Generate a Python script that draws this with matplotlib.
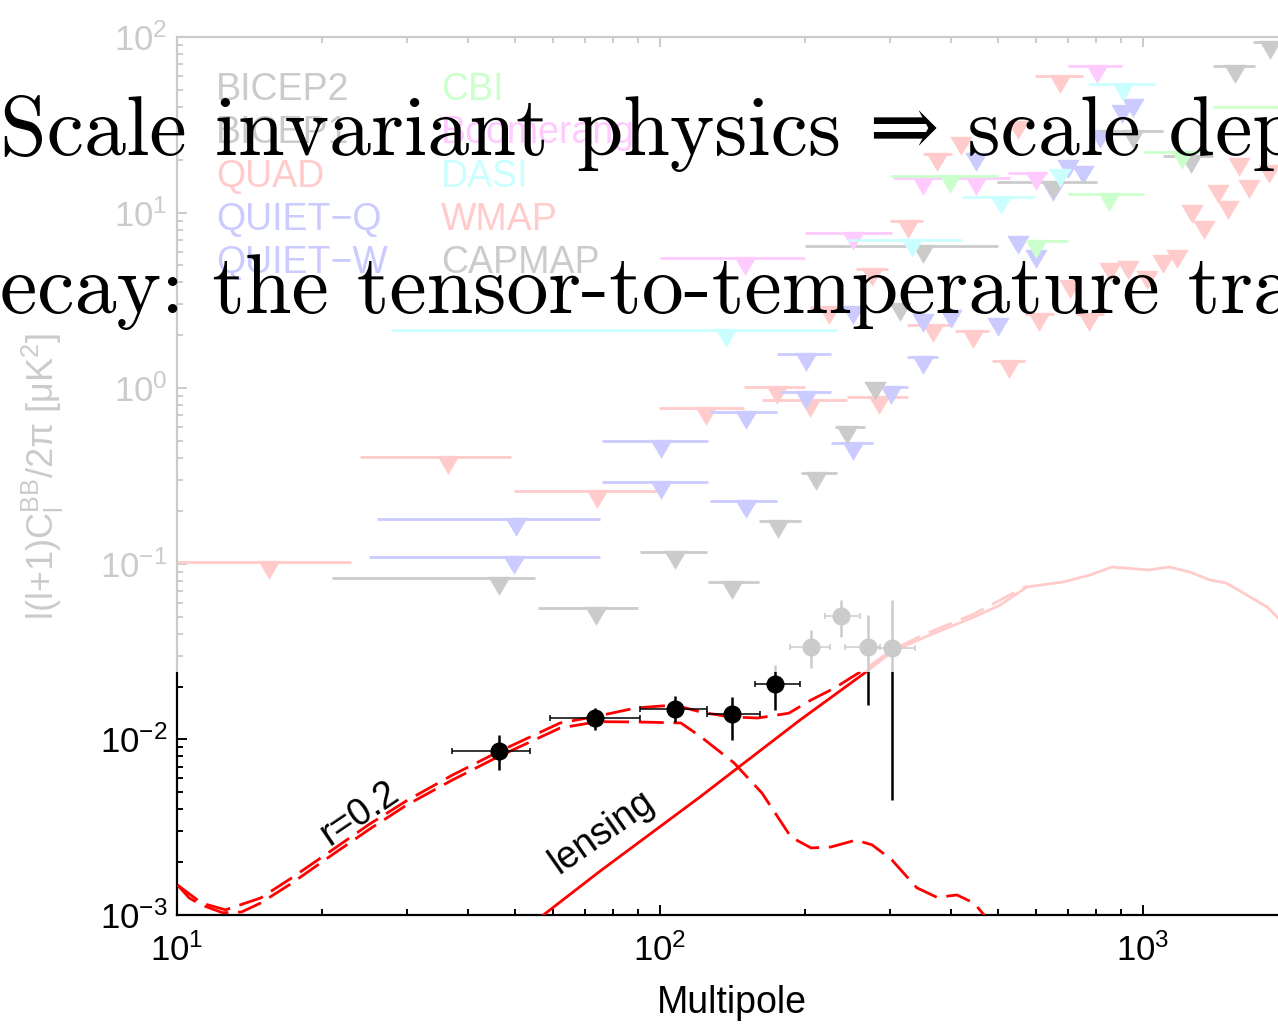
import numpy as np
import matplotlib
matplotlib.use('Agg')
import matplotlib.pyplot as plt
from matplotlib.path import Path
from matplotlib.patches import Rectangle
from matplotlib.ticker import LogLocator, NullFormatter

plt.rcParams['font.family'] = ['Liberation Sans', 'DejaVu Sans']
plt.rcParams['mathtext.default'] = 'regular'

# ---------------- data ----------------
# BICEP2 band powers
b2_ell = np.array([46.4, 73.4, 107.4, 141, 173, 205.6, 237, 270, 302])
b2_ell_lo = np.array([37.1, 59.2, 90.9, 125, 157, 186, 220, 241, 279])
b2_ell_hi = np.array([53.8, 90.9, 125, 161, 195, 225, 259, 285, 337])
b2_val = np.array([0.0086, 0.01324, 0.0149, 0.01396, 0.02066, 0.0336, 0.0504, 0.0336, 0.0332])
b2_lo = np.array([0.0067, 0.01132, 0.01256, 0.00993, 0.01469, 0.0255, 0.0383, 0.0157, 0.00452])
b2_hi = np.array([0.0106, 0.0151, 0.01766, 0.0174, 0.02654, 0.042, 0.0622, 0.051, 0.0622])

# upper limits: centre ell, ell range, limit value
wmap_ell = [15.5, 36.4, 74.1, 204.5]
wmap_lo = [10, 23.9, 49.9, 163]
wmap_hi = [22.9, 49.2, 99.5, 244]
wmap_val = [0.102, 0.405, 0.260, 0.857]

quad_ell = [124.5, 174.6, 284, 528, 773, 609, 445, 367, 224, 275, 326, 374, 420, 551, 673,
            1580, 1824, 1657, 1429, 1500, 1262, 1336, 855, 931, 1019, 1099, 1175, 706]
quad_lo = [99.3, 149, 244, 487, 727, 570, 408, 325, 204, 255, 299, 350, 405, 530, 597,
           1580, 1824, 1657, 1429, 1500, 1262, 1336, 840, 915, 1000, 1080, 1155, 690]
quad_hi = [149, 199.5, 326, 570, 831, 655, 480, 404, 247, 296, 350, 403, 436, 572, 751,
           1580, 1824, 1657, 1429, 1500, 1262, 1336, 870, 948, 1040, 1118, 1195, 722]
quad_val = [0.771, 1.016, 0.891, 1.43, 2.65, 2.65, 2.12, 2.29, 2.90, 4.77, 8.96, 21.6, 26.5, 32.8, 60,
            20.2, 18.4, 15.1, 14.2, 11.5, 10.9, 8.84, 5.10, 5.23, 4.59, 5.66, 6.04, 4.08]

quietq_ell = [49.9, 100.5, 150.7, 201, 251, 301, 350.5]
quietq_lo = [25, 75.9, 127, 177, 226, 276, 325]
quietq_hi = [75.2, 125.6, 175, 226, 276, 326, 376]
quietq_val = [0.109, 0.292, 0.228, 0.951, 0.488, 1.016, 1.51]

quietw_ell = [50.4, 100.5, 150.7, 200.5, 350.5, 400, 501, 251, 451, 551, 600, 700, 751, 651, 953, 906, 815]
quietw_lo = [26, 75.9, 127, 175, 338, 388, 485, 240, 440, 540, 590, 690, 740, 640, 940, 895, 805]
quietw_hi = [75.2, 125.6, 175, 226, 363, 412, 517, 262, 462, 562, 610, 710, 762, 662, 966, 917, 825]
quietw_val = [0.180, 0.500, 0.732, 1.567, 2.61, 2.75, 2.48, 2.90, 21.6, 7.26, 6.04, 19.7, 18.2, 14.5, 43.7, 40.4, 29.2]

bicep1_ell = [46.4, 73.6, 107.4, 141, 175.4, 210.5, 244, 279, 314]
bicep1_lo = [20.9, 55.9, 90.9, 125.6, 160, 196, 230, 266, 302]
bicep1_hi = [55.1, 90, 125, 160, 196, 232, 266, 290, 326]
bicep1_val = [0.083, 0.056, 0.1167, 0.0787, 0.1754, 0.329, 0.601, 1.07, 3.02]

capmap_ell = [350.5, 651, 953, 1257, 1550, 1832]
capmap_lo = [199.5, 499, 815, 1099, 1396, 1689]
capmap_hi = [501, 803, 1099, 1396, 1706, 1940]
capmap_val = [6.45, 14.9, 29.2, 21.0, 68.4, 93.7]

boom_ell = [150, 251, 350.5, 451, 600, 803]
boom_lo = [99.8, 199.5, 303, 412, 525, 700]
boom_hi = [200, 302, 398, 531, 633, 906]
boom_val = [5.51, 7.66, 15.7, 15.7, 16.8, 68.4]

dasi_ell = [137, 332, 508, 673, 910]
dasi_lo = [27.9, 245, 422, 640, 769]
dasi_hi = [232, 422, 597, 706, 1059]
dasi_val = [2.14, 6.98, 12.3, 17.5, 54]

cbi_ell = [398, 600, 851, 1205, 2000]
cbi_lo = [299, 575, 700, 1005, 1396]
cbi_hi = [501, 700, 1005, 1396, 2800]
cbi_val = [16.1, 6.89, 12.8, 22.1, 39.9]

# theory curves
lens_ell = [51.3, 57.0, 75.2, 121, 143, 195, 267, 302, 354, 447, 506, 575, 682, 776, 863,
            1028, 1132, 1250, 1376, 1486, 1667, 1808, 1905, 2020]
lens_cl = [0.0008, 0.000987, 0.00178, 0.0047, 0.0067, 0.0129, 0.0242, 0.0315, 0.0383, 0.0498,
           0.0582, 0.0738, 0.0787, 0.0863, 0.0959, 0.0922, 0.0959, 0.0897, 0.0809, 0.0778,
           0.0647, 0.0567, 0.0491, 0.041]

tens_ell = [10.03, 10.6, 11.24, 12.43, 13.6, 14.9, 17.3, 20.7, 24.9, 29.9, 37.2, 46.2, 62.1,
            74.4, 90.9, 110.5, 121.6, 142.3, 162.6, 186.7, 205.4, 225.9, 254.5, 274.8, 302,
            340, 374.6, 412, 446.8, 468.8, 506]
tens_cl = [0.00148, 0.00125, 0.00114, 0.00103, 0.00104, 0.00117, 0.00152, 0.00215, 0.00305,
           0.00423, 0.00588, 0.00796, 0.01161, 0.01262, 0.01256, 0.0124, 0.01033, 0.00735,
           0.00495, 0.00278, 0.00241, 0.00244, 0.00267, 0.00251, 0.00206, 0.00143, 0.00126,
           0.0013, 0.00117, 0.0010, 0.00077]

tot_ell = [10.03, 11.24, 12.6, 14.9, 17.3, 20.7, 24.9, 29.9, 37.2, 46.2, 62.1, 74.4, 89.1,
           107.2, 121.6, 139.6, 159.6, 184.8, 205.4, 230, 249.7, 269.6, 302, 354, 446.8, 575]
tot_cl = [0.00148, 0.00117, 0.00107, 0.00125, 0.00163, 0.00229, 0.00326, 0.00448, 0.00627,
          0.00848, 0.0124, 0.01358, 0.0151, 0.0157, 0.0143, 0.01343, 0.01324, 0.0141, 0.01675,
          0.01963, 0.02264, 0.0258, 0.0323, 0.0398, 0.0518, 0.0748]

legend_col1 = ['BICEP2', 'BICEP1', 'QUAD', 'QUIET\u2212Q', 'QUIET\u2212W']
legend_col1_colors = ['black', 'black', 'red', 'blue', 'blue']
legend_col2 = ['CBI', 'Boomerang', 'DASI', 'WMAP', 'CAPMAP']
legend_col2_colors = ['#00ff00', 'magenta', 'cyan', 'red', 'black']

# ---------------- figure ----------------
fig = plt.figure(figsize=(12.78, 10.25), dpi=100)
ax = fig.add_axes([177 / 1278, 1 - 915 / 1025, 1158.2 / 1278, 878 / 1025])
ax.set_xscale('log')
ax.set_yscale('log')
ax.set_xlim(10, 2500)
ax.set_ylim(1e-3, 1e2)

tri = Path([(-1, 0.15), (1, 0.15), (0, -1.55), (-1, 0.15)],
           [Path.MOVETO, Path.LINETO, Path.LINETO, Path.CLOSEPOLY])


def limits(e, lo, hi, v, c):
    e = np.asarray(e, float)
    lo = np.asarray(lo, float)
    hi = np.asarray(hi, float)
    v = np.asarray(v, float)
    ax.errorbar(e, v, xerr=[e - lo, hi - e], fmt='none', ecolor=c, elinewidth=2.0,
                capsize=0, zorder=2)
    ax.plot(e, v, ls='none', marker=tri, ms=25, mfc=c, mec='none', zorder=2)


limits(wmap_ell, wmap_lo, wmap_hi, wmap_val, 'red')
limits(quad_ell, quad_lo, quad_hi, quad_val, 'red')
limits(quietq_ell, quietq_lo, quietq_hi, quietq_val, 'blue')
limits(quietw_ell, quietw_lo, quietw_hi, quietw_val, 'blue')
limits(bicep1_ell, bicep1_lo, bicep1_hi, bicep1_val, 'black')
limits(capmap_ell, capmap_lo, capmap_hi, capmap_val, 'black')
limits(boom_ell, boom_lo, boom_hi, boom_val, 'magenta')
limits(dasi_ell, dasi_lo, dasi_hi, dasi_val, 'cyan')
limits(cbi_ell, cbi_lo, cbi_hi, cbi_val, '#00ff00')

# theory
ax.plot(lens_ell, lens_cl, color='red', lw=2.0, zorder=3)
ax.plot(tens_ell, tens_cl, color='red', lw=2.0, ls=(0, (9, 3.5)), zorder=3)
ax.plot(tot_ell, tot_cl, color='red', lw=2.0, ls=(0, (9, 3.5)), zorder=3)

# BICEP2 points
ax.errorbar(b2_ell, b2_val, yerr=[b2_val - b2_lo, b2_hi - b2_val], fmt='none', ecolor='black',
            elinewidth=1.8, capsize=0, zorder=4)
ax.errorbar(b2_ell, b2_val, xerr=[b2_ell - b2_ell_lo, b2_ell_hi - b2_ell], fmt='o', color='black',
            ms=12, elinewidth=1.1, capsize=2.5, capthick=1.1, zorder=4)

ax.text(23.9, 0.00376, 'r=0.2', rotation=34, fontsize=27, ha='center', va='center',
        rotation_mode='anchor', zorder=5)
ax.text(75.9, 0.00297, 'lensing', rotation=35, fontsize=27, ha='center', va='center',
        rotation_mode='anchor', zorder=5)

# legend as coloured text
rows_y = [0.9396, 0.8907, 0.8405, 0.7916, 0.7426]
for lab, c, yy in zip(legend_col1, legend_col1_colors, rows_y):
    ax.text(0.0337, yy, lab, color=c, fontsize=27, ha='left', va='center', transform=ax.transAxes)
for lab, c, yy in zip(legend_col2, legend_col2_colors, rows_y):
    ax.text(0.228, yy, lab, color=c, fontsize=27, ha='left', va='center', transform=ax.transAxes)

# axes styling
for s in ['left', 'bottom', 'top']:
    ax.spines[s].set_linewidth(1.6)
ax.spines['right'].set_visible(False)
ax.xaxis.set_major_locator(LogLocator(base=10, numticks=10))
ax.xaxis.set_minor_locator(LogLocator(base=10, subs=np.arange(2, 10), numticks=20))
ax.yaxis.set_major_locator(LogLocator(base=10, numticks=10))
ax.yaxis.set_minor_locator(LogLocator(base=10, subs=np.arange(2, 10), numticks=20))
ax.xaxis.set_minor_formatter(NullFormatter())
ax.yaxis.set_minor_formatter(NullFormatter())
ax.tick_params(which='both', direction='in', top=True, right=False, width=1.4, labelsize=25)
ax.tick_params(which='major', length=7.5)
ax.tick_params(which='minor', length=4)
ax.tick_params(axis='x', pad=13)
ax.tick_params(axis='y', pad=7)

ax.set_xlabel('Multipole', fontsize=27)
ax.xaxis.set_label_coords(0.4792, -0.1002)
ax.xaxis.label.set_va('center')
ax.set_ylabel('l(l+1)C$_\\mathregular{l}^\\mathregular{BB}$/2$\\pi$ [\u03bcK$^\\mathregular{2}$]',
              fontsize=26, math_fontfamily='cm')
ax.yaxis.set_label_coords(-0.1157, 0.50)
ax.yaxis.label.set_va('center')

# white veil over the upper part
fig.add_artist(Rectangle((0, 1 - 672 / 1025), 1, 672 / 1025, transform=fig.transFigure,
                         facecolor='white', edgecolor='none', alpha=0.8, zorder=5))

# overlaid slide text
fig.text(0.0, 1 - 155 / 1025, 'Scale invariant physics \u21d2 scale dependent',
         fontsize=60.5, family=['cmr10', 'DejaVu Serif'], ha='left', va='baseline',
         color='black', zorder=10)
fig.text(0.0, 1 - 313 / 1025, 'ecay: the tensor-to-temperature transfer',
         fontsize=60.5, family=['cmr10', 'DejaVu Serif'], ha='left', va='baseline',
         color='black', zorder=10)

fig.savefig('out.png', dpi=100)
